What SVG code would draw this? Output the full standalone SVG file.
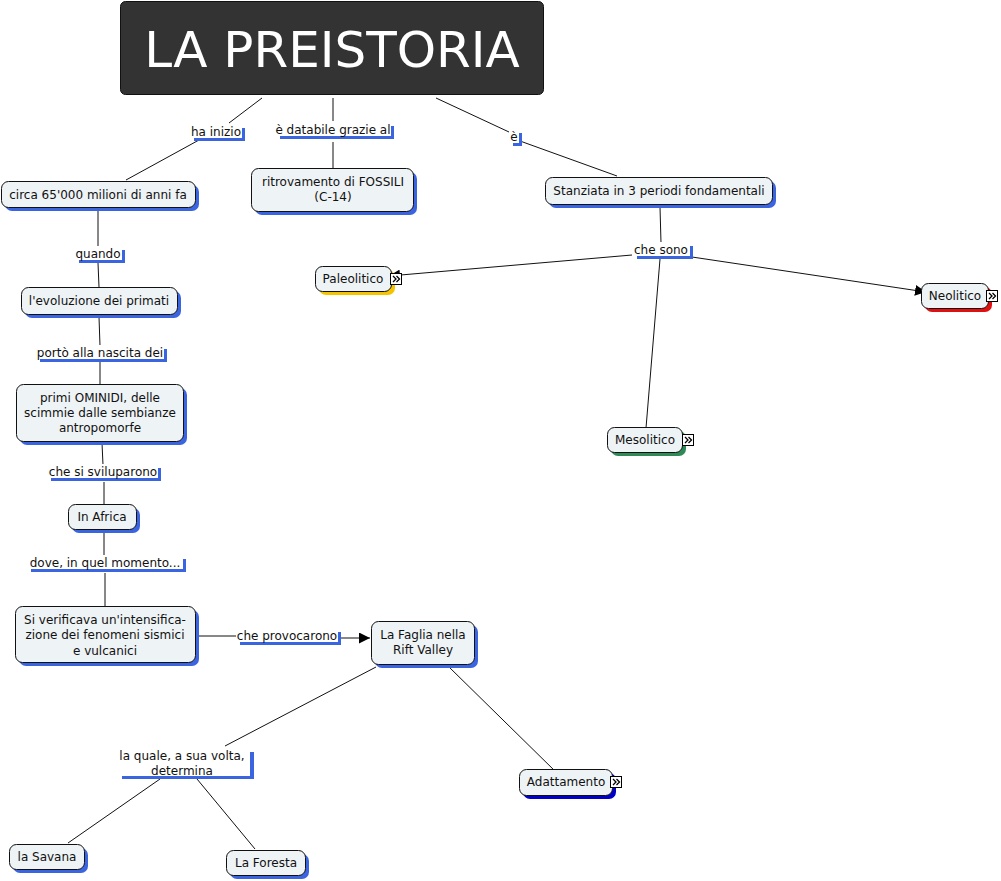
<svg xmlns="http://www.w3.org/2000/svg" width="1001" height="881" viewBox="0 0 1001 881">
<defs>
<style>
text{font-family:"DejaVu Sans",Verdana,sans-serif;font-size:12px;fill:#111;text-anchor:middle}
.n{fill:#eef3f6;stroke:#111;stroke-width:1}
.s{fill:#3b64e0}
.lw{fill:#fff}
.ls{fill:#3b64e0}
.c line{stroke:#111;stroke-width:1}
.ic{fill:#fff;stroke:#000;stroke-width:1}
.icp{fill:none;stroke:#000;stroke-width:1.3}
</style>
<marker id="ar" viewBox="0 0 10 10" refX="10" refY="5" markerWidth="11" markerHeight="11" markerUnits="userSpaceOnUse" orient="auto">
<path d="M0,0 L10,5 L0,10 z" fill="#000"/>
</marker>
</defs>
<rect width="1001" height="881" fill="#fff"/>

<g class="c" id="connectors">
<line x1="262" y1="98" x2="229" y2="123"/>
<line x1="199" y1="140" x2="126" y2="180"/>
<line x1="333" y1="98" x2="333" y2="121"/>
<line x1="333" y1="142" x2="333" y2="168"/>
<line x1="436" y1="98" x2="509" y2="132"/>
<line x1="520" y1="141" x2="617" y2="176"/>
<line x1="660" y1="207" x2="661" y2="243"/>
<line x1="632" y1="255" x2="389" y2="276" marker-end="url(#ar)"/>
<line x1="692" y1="257" x2="926" y2="292" marker-end="url(#ar)"/>
<line x1="660" y1="259" x2="646" y2="428"/>
<line x1="98" y1="210" x2="98" y2="246"/>
<line x1="98" y1="263" x2="99" y2="287"/>
<line x1="99" y1="317" x2="100" y2="346"/>
<line x1="100" y1="362" x2="100" y2="384"/>
<line x1="102" y1="443" x2="103" y2="465"/>
<line x1="104" y1="482" x2="104" y2="504"/>
<line x1="104" y1="532" x2="104" y2="556"/>
<line x1="105" y1="573" x2="105" y2="606"/>
<line x1="198" y1="636" x2="236" y2="636"/>
<line x1="341" y1="638" x2="370" y2="638" marker-end="url(#ar)"/>
<line x1="376" y1="667" x2="225" y2="746"/>
<line x1="160" y1="779" x2="68" y2="843"/>
<line x1="197" y1="779" x2="255" y2="849"/>
<line x1="448" y1="666" x2="557" y2="773"/>
</g>

<g id="title">
<rect x="120.5" y="1.5" width="423" height="93" rx="5" fill="#333" stroke="#111"/>
<text x="332" y="67" style="font-size:50px;fill:#fff">LA PREISTORIA</text>
</g>

<g id="n-circa">
<rect class="s" x="5" y="185" width="194" height="26" rx="7"/>
<rect class="n" x="1.5" y="181.5" width="194" height="26" rx="7"/>
<text x="98" y="199">circa 65'000 milioni di anni fa</text>
</g>
<g id="n-fossili">
<rect class="s" x="255" y="172" width="162" height="43" rx="7"/>
<rect class="n" x="251.5" y="168.5" width="162" height="43" rx="7"/>
<text x="333" y="186">ritrovamento di FOSSILI</text>
<text x="333" y="201">(C-14)</text>
</g>
<g id="n-stanziata">
<rect class="s" x="549" y="181" width="227" height="27" rx="7"/>
<rect class="n" x="545.5" y="177.5" width="227" height="27" rx="7"/>
<text x="659" y="195">Stanziata in 3 periodi fondamentali</text>
</g>
<g id="n-paleolitico">
<rect x="319" y="270" width="76" height="25" rx="7" fill="#f5c400"/>
<rect class="n" x="315.5" y="266.5" width="76" height="25" rx="7"/>
<text x="353" y="283">Paleolitico</text>
<rect class="ic" x="390.5" y="273.5" width="11" height="11"/>
<path class="icp" d="M393,276 l3,3 l-3,3 M396.5,276 l3,3 l-3,3"/>
</g>
<g id="n-neolitico">
<rect x="925" y="287" width="67" height="25" rx="7" fill="#e01010"/>
<rect class="n" x="921.5" y="283.5" width="67" height="25" rx="7"/>
<text x="955" y="300">Neolitico</text>
<rect class="ic" x="986.5" y="290.5" width="11" height="11"/>
<path class="icp" d="M989,293 l3,3 l-3,3 M992.5,293 l3,3 l-3,3"/>
</g>
<g id="n-mesolitico">
<rect x="611" y="431" width="75" height="25" rx="7" fill="#2e8b57"/>
<rect class="n" x="607.5" y="427.5" width="75" height="25" rx="7"/>
<text x="645" y="444">Mesolitico</text>
<rect class="ic" x="682.5" y="434.5" width="11" height="11"/>
<path class="icp" d="M685,437 l3,3 l-3,3 M688.5,437 l3,3 l-3,3"/>
</g>
<g id="n-evoluzione">
<rect class="s" x="25" y="291" width="156" height="27" rx="7"/>
<rect class="n" x="21.5" y="287.5" width="156" height="27" rx="7"/>
<text x="99" y="305">l'evoluzione dei primati</text>
</g>
<g id="n-ominidi">
<rect class="s" x="20" y="388" width="167" height="57" rx="7"/>
<rect class="n" x="16.5" y="384.5" width="167" height="57" rx="7"/>
<text x="100" y="402">primi OMINIDI, delle</text>
<text x="100" y="417">scimmie dalle sembianze</text>
<text x="100" y="432">antropomorfe</text>
</g>
<g id="n-africa">
<rect class="s" x="72" y="508" width="68" height="25" rx="7"/>
<rect class="n" x="68.5" y="504.5" width="68" height="25" rx="7"/>
<text x="102" y="521">In Africa</text>
</g>
<g id="n-verificava">
<rect class="s" x="19" y="610" width="180" height="56" rx="7"/>
<rect class="n" x="15.5" y="606.5" width="180" height="56" rx="7"/>
<text x="105" y="624">Si verificava un'intensifica-</text>
<text x="105" y="639">zione dei fenomeni sismici</text>
<text x="105" y="655">e vulcanici</text>
</g>
<g id="n-faglia">
<rect class="s" x="375" y="625" width="103" height="43" rx="7"/>
<rect class="n" x="371.5" y="621.5" width="103" height="43" rx="7"/>
<text x="423" y="639">La Faglia nella</text>
<text x="423" y="654">Rift Valley</text>
</g>
<g id="n-adattamento">
<rect x="523" y="773" width="93" height="26" rx="7" fill="#0000c8"/>
<rect class="n" x="519.5" y="769.5" width="93" height="26" rx="7"/>
<text x="566" y="786">Adattamento</text>
<rect class="ic" x="610.5" y="776.5" width="11" height="11"/>
<path class="icp" d="M613,779 l3,3 l-3,3 M616.5,779 l3,3 l-3,3"/>
</g>
<g id="n-savana">
<rect class="s" x="13" y="848" width="75" height="25" rx="7"/>
<rect class="n" x="9.5" y="844.5" width="75" height="25" rx="7"/>
<text x="47" y="861">la Savana</text>
</g>
<g id="n-foresta">
<rect class="s" x="230" y="854" width="79" height="25" rx="7"/>
<rect class="n" x="226.5" y="850.5" width="79" height="25" rx="7"/>
<text x="266" y="867">La Foresta</text>
</g>

<g id="l-hainizio">
<rect class="ls" x="194" y="128" width="51" height="13"/>
<rect class="lw" x="190" y="124" width="52" height="14"/>
<text x="216" y="136">ha inizio</text>
</g>
<g id="l-databile">
<rect class="ls" x="280" y="126" width="114" height="13"/>
<rect class="lw" x="276" y="122" width="115" height="14"/>
<text x="333" y="134">è databile grazie al</text>
</g>
<g id="l-e">
<rect class="ls" x="513" y="133" width="9" height="13"/>
<rect class="lw" x="509" y="129" width="10" height="14"/>
<text x="514" y="141">è</text>
</g>
<g id="l-chesono">
<rect class="ls" x="637" y="246" width="56" height="13"/>
<rect class="lw" x="633" y="242" width="57" height="14"/>
<text x="661" y="254">che sono</text>
</g>
<g id="l-quando">
<rect class="ls" x="79" y="250" width="46" height="13"/>
<rect class="lw" x="75" y="246" width="47" height="14"/>
<text x="98" y="258">quando</text>
</g>
<g id="l-porto">
<rect class="ls" x="40" y="349" width="127" height="13"/>
<rect class="lw" x="36" y="345" width="128" height="14"/>
<text x="100" y="357">portò alla nascita dei</text>
</g>
<g id="l-sviluparono">
<rect class="ls" x="51" y="468" width="110" height="13"/>
<rect class="lw" x="47" y="464" width="111" height="14"/>
<text x="103" y="476">che si sviluparono</text>
</g>
<g id="l-dove">
<rect class="ls" x="31" y="559" width="155" height="13"/>
<rect class="lw" x="27" y="555" width="156" height="14"/>
<text x="105" y="567">dove, in quel momento...</text>
</g>
<g id="l-provocarono">
<rect class="ls" x="240" y="632" width="101" height="13"/>
<rect class="lw" x="236" y="628" width="102" height="14"/>
<text x="287" y="640">che provocarono</text>
</g>
<g id="l-quale">
<rect class="ls" x="122" y="752" width="132" height="27"/>
<rect class="lw" x="118" y="748" width="132" height="28"/>
<text x="182" y="760">la quale, a sua volta,</text>
<text x="182" y="775">determina</text>
</g>
</svg>
